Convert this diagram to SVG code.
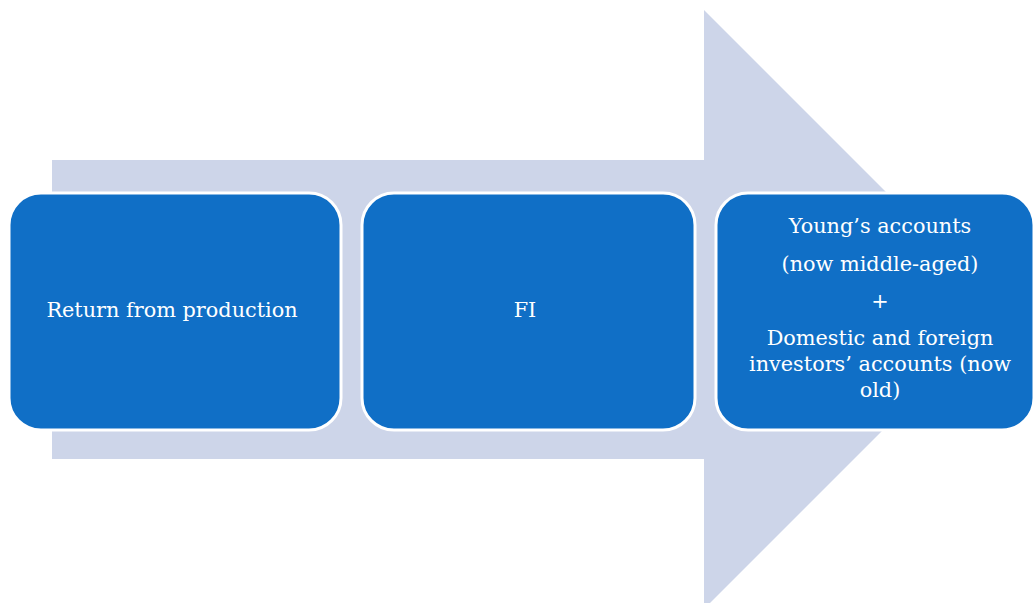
<svg xmlns="http://www.w3.org/2000/svg" width="1035" height="603" viewBox="0 0 1035 603">
<style>
.box{fill:#106FC6;stroke:#FFFFFF;stroke-width:3}
.t{font-family:"DejaVu Serif","Liberation Serif",serif;font-size:20.8px;fill:#FFFFFF;text-anchor:middle}
</style>
<rect width="1035" height="603" fill="#FFFFFF"/>
<g id="connectors">
<polygon points="52,160 704,160 704,10 1003.5,309.5 704,609 704,459 52,459" fill="#CDD5E9"/>
</g>
<g id="node1">
<rect class="box" x="9" y="193" width="332" height="237" rx="32"/>
<text class="t" x="172" y="317">Return from production</text>
</g>
<g id="node2">
<rect class="box" x="362" y="193" width="333" height="237" rx="32"/>
<text class="t" x="525" y="317">FI</text>
</g>
<g id="node3">
<rect class="box" x="716" y="193" width="318" height="237" rx="32"/>
<text class="t" x="880" y="233">Young’s accounts</text>
<text class="t" x="880" y="271">(now middle-aged)</text>
<text class="t" x="880" y="308">+</text>
<text class="t" x="880" y="345">Domestic and foreign</text>
<text class="t" x="880" y="371">investors’ accounts (now</text>
<text class="t" x="880" y="397">old)</text>
</g>
</svg>
